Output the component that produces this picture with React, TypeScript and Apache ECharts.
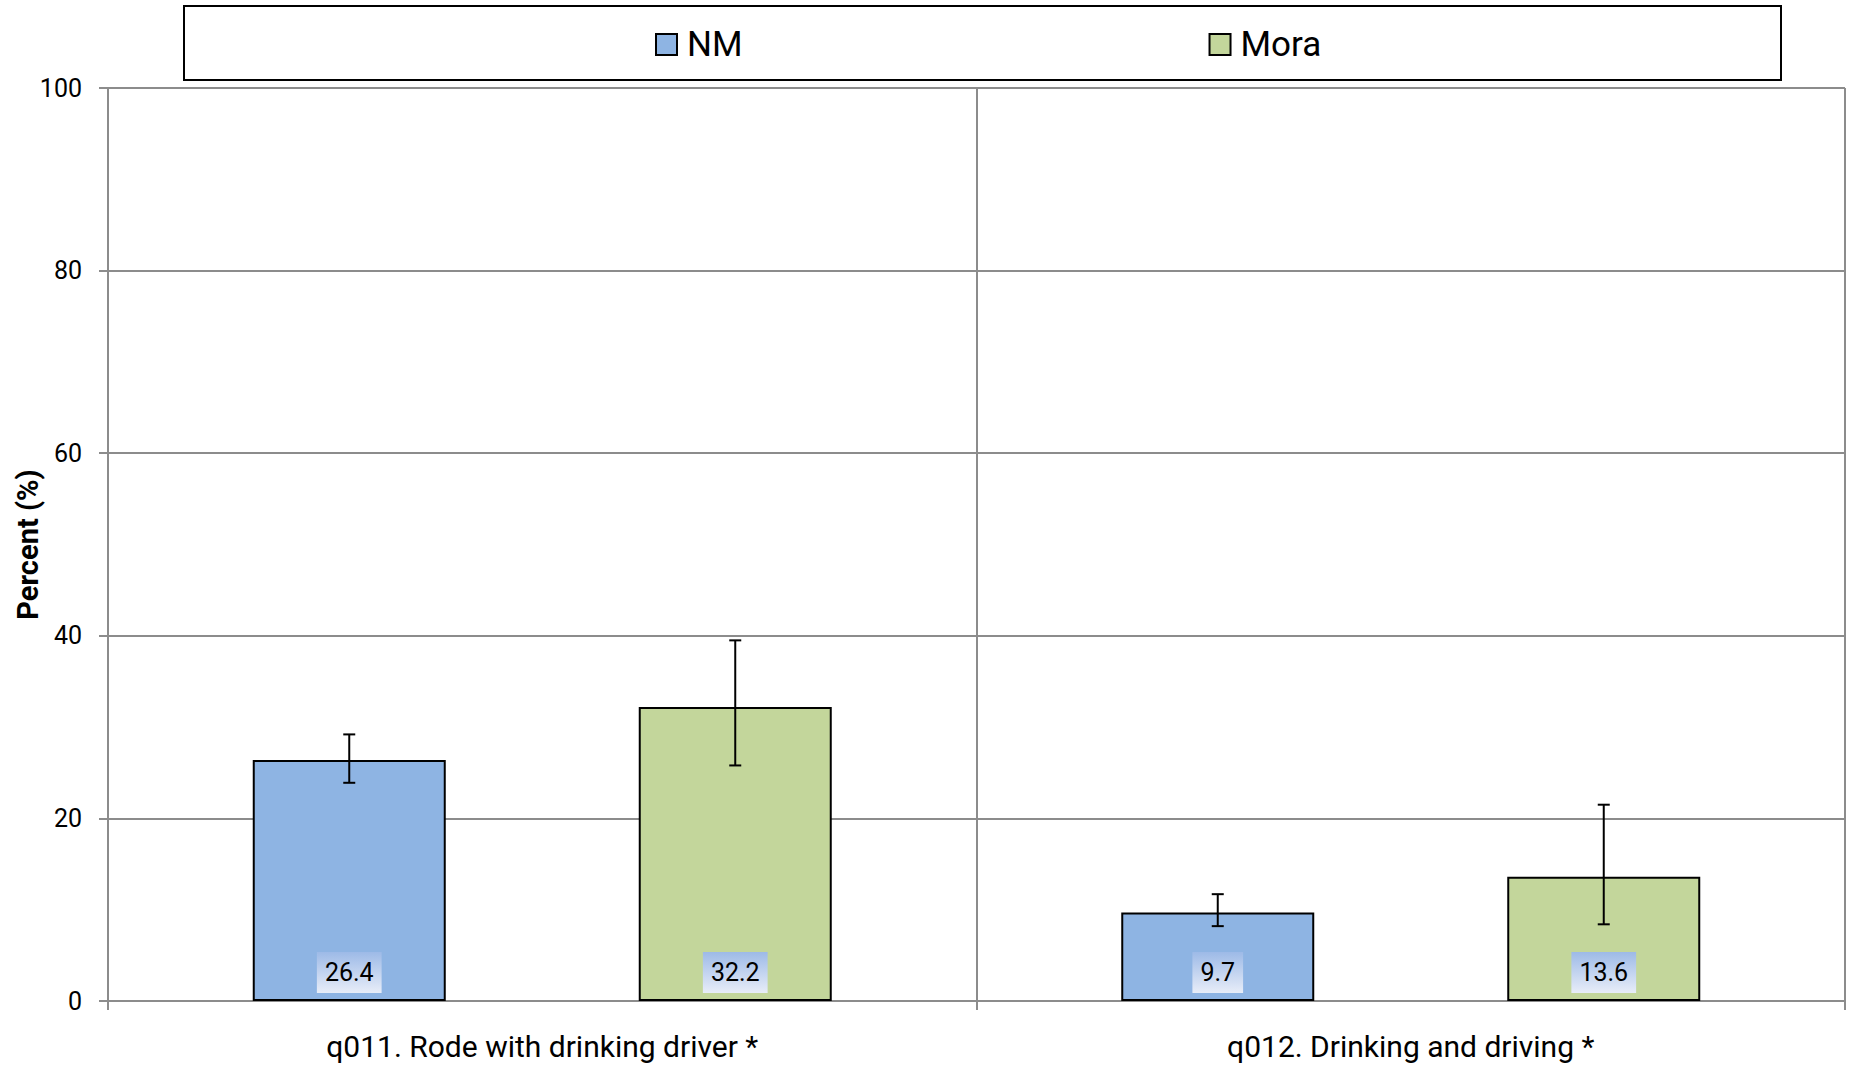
import React, { useEffect, useRef } from "react";
import * as echarts from "echarts";

const categories = ["q011. Rode with drinking driver *", "q012. Drinking and driving *"];
const seriesNames = ["NM", "Mora"];
const nmValues = [26.4, 9.7];
const moraValues = [32.2, 13.6];
const nmLow = [23.9, 8.2];
const nmHigh = [29.2, 11.7];
const moraLow = [25.8, 8.4];
const moraHigh = [39.5, 21.5];
const yTicks = [0, 20, 40, 60, 80, 100];

const FONT = "Roboto, 'Open Sans', sans-serif";
const BAR_WIDTH = 193;
const GRID_COLOR = "#8c8c8c";

export default function App() {
  const ref = useRef<HTMLDivElement>(null);

  useEffect(() => {
    if (!ref.current) return;
    const chart = echarts.init(ref.current, undefined, { renderer: "svg" });

    const labelBg = new echarts.graphic.LinearGradient(0, 0, 0, 1, [
      { offset: 0, color: "#9dbae7" },
      { offset: 1, color: "#e8edf8" },
    ]);

    const barLabel = {
      show: true,
      position: "insideBottom",
      distance: 8,
      color: "#000",
      fontFamily: FONT,
      fontSize: 25,
      lineHeight: 31,
      padding: [5, 8],
      backgroundColor: labelBg,
      formatter: (p: any) => p.value.toFixed(1),
    };

    const errorSeries = (low: number[], high: number[], offset: number) => ({
      type: "custom",
      z: 5,
      silent: true,
      data: low.map((l, i) => [i, l, high[i]]),
      encode: { x: 0, y: [1, 2] },
      renderItem: (_params: any, api: any) => {
        const cat = api.value(0);
        const top = api.coord([cat, api.value(2)]);
        const bot = api.coord([cat, api.value(1)]);
        const x = top[0] + offset;
        const half = 6;
        const style = { stroke: "#000", lineWidth: 2 };
        return {
          type: "group",
          children: [
            { type: "line", shape: { x1: x, y1: top[1], x2: x, y2: bot[1] }, style },
            { type: "line", shape: { x1: x - half, y1: top[1], x2: x + half, y2: top[1] }, style },
            { type: "line", shape: { x1: x - half, y1: bot[1], x2: x + half, y2: bot[1] }, style },
          ],
        };
      },
    });

    chart.setOption({
      animation: false,
      backgroundColor: "#ffffff",
      textStyle: { fontFamily: FONT },
      grid: {
        left: 108,
        right: 6,
        top: 88,
        bottom: 69,
        containLabel: false,
        outerBoundsMode: "none",
      },
      graphic: [
        {
          type: "rect",
          shape: { x: 184, y: 6, width: 1597, height: 74 },
          style: { fill: "#fff", stroke: "#000", lineWidth: 2 },
          z: 0,
        },
      ],
      legend: {
        data: seriesNames,
        left: 650,
        top: 22,
        itemWidth: 21,
        itemHeight: 21,
        itemGap: 466,
        icon: "rect",
        textStyle: {
          fontFamily: FONT,
          fontSize: 35,
          color: "#000",
          padding: [0, 0, 0, 5],
        },
        z: 10,
      },
      xAxis: {
        type: "category",
        data: categories,
        boundaryGap: true,
        axisLine: { show: true, lineStyle: { color: GRID_COLOR, width: 2 } },
        axisTick: { show: true, length: 9, lineStyle: { color: GRID_COLOR, width: 2 } },
        splitLine: { show: true, lineStyle: { color: GRID_COLOR, width: 2 } },
        axisLabel: { color: "#000", fontFamily: FONT, fontSize: 30, margin: 30 },
      },
      yAxis: {
        type: "value",
        min: yTicks[0],
        max: yTicks[yTicks.length - 1],
        interval: yTicks[1] - yTicks[0],
        name: "Percent (%)",
        nameLocation: "middle",
        nameGap: 66,
        nameMoveOverlap: false,
        nameTextStyle: { color: "#000", fontFamily: FONT, fontSize: 29, fontWeight: "bold" },
        axisLine: { show: true, lineStyle: { color: GRID_COLOR, width: 2 } },
        axisTick: { show: true, length: 9, lineStyle: { color: GRID_COLOR, width: 2 } },
        splitLine: { show: true, lineStyle: { color: GRID_COLOR, width: 2 } },
        axisLabel: { color: "#000", fontFamily: FONT, fontSize: 25, margin: 26 },
      },
      series: [
        {
          name: seriesNames[0],
          type: "bar",
          data: nmValues,
          barWidth: BAR_WIDTH,
          barGap: "100%",
          itemStyle: { color: "#8eb4e3", borderColor: "#000", borderWidth: 2 },
          label: barLabel,
          z: 3,
        },
        {
          name: seriesNames[1],
          type: "bar",
          data: moraValues,
          barWidth: BAR_WIDTH,
          barGap: "100%",
          itemStyle: { color: "#c3d69b", borderColor: "#000", borderWidth: 2 },
          label: barLabel,
          z: 3,
        },
        errorSeries(nmLow, nmHigh, -BAR_WIDTH),
        errorSeries(moraLow, moraHigh, BAR_WIDTH),
      ],
    });

    return () => chart.dispose();
  }, []);

  return (
    <div
      ref={ref}
      style={{ position: "fixed", left: 0, top: 0, width: 1851, height: 1070, background: "#fff" }}
    />
  );
}
